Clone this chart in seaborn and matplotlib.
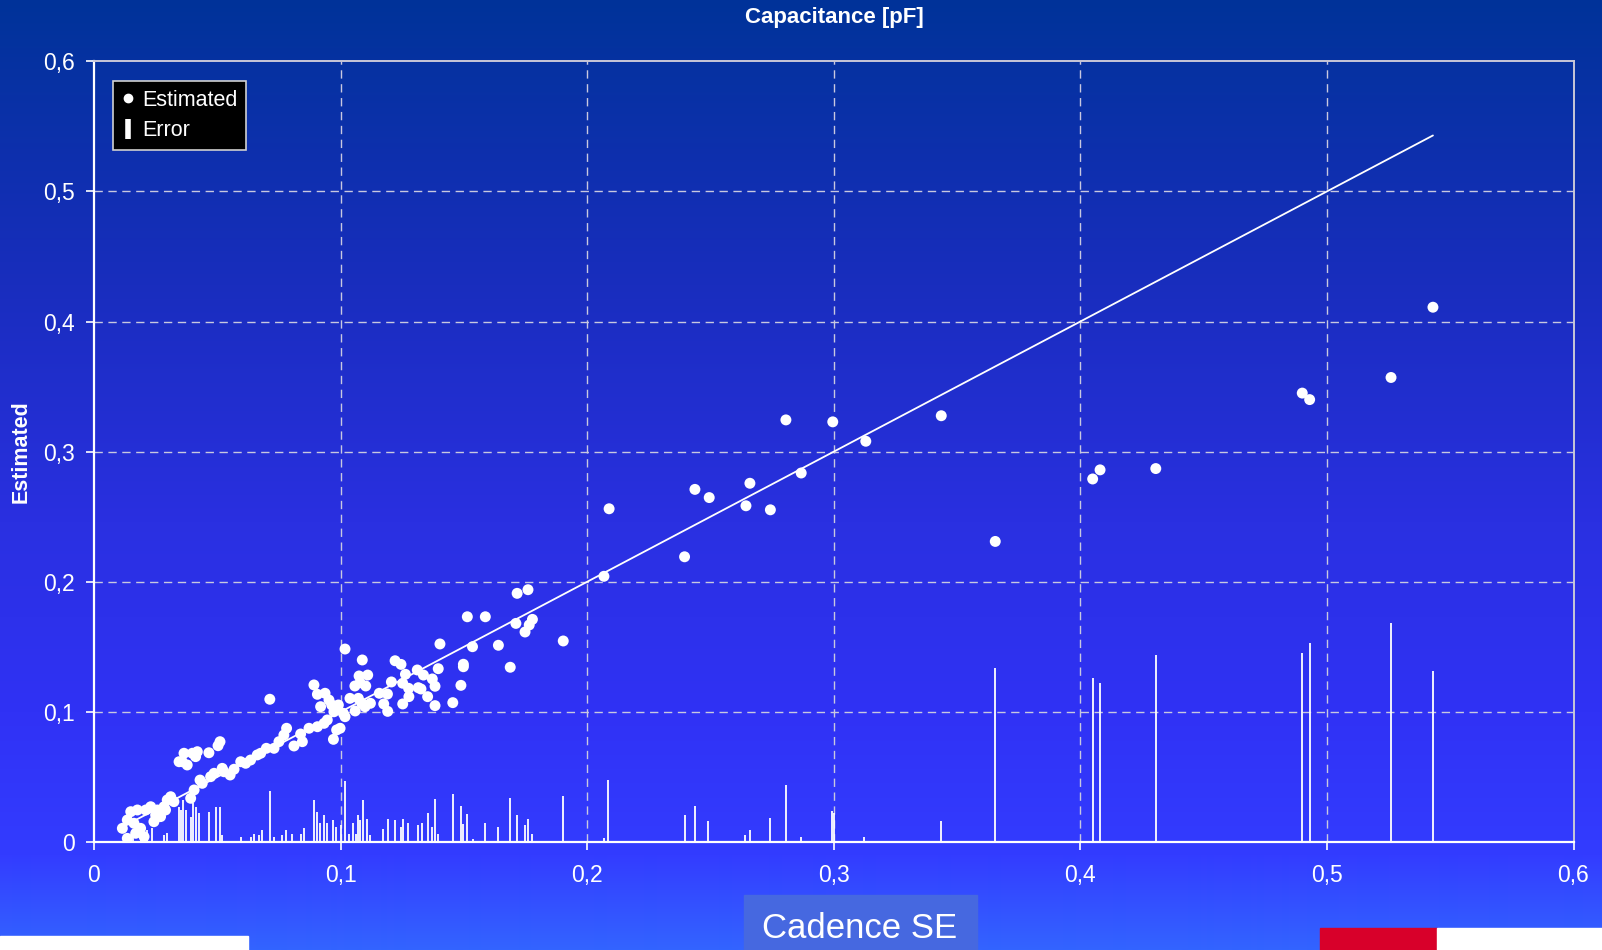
import numpy as np
import matplotlib
matplotlib.use("Agg")
import matplotlib.pyplot as plt
import seaborn as sns
from matplotlib.lines import Line2D
from matplotlib.patches import Rectangle

measured = [0.543, 0.526, 0.490, 0.493, 0.4306, 0.408, 0.405, 0.3655, 0.3436, 0.313,
            0.2996, 0.2868, 0.2806, 0.2743, 0.266, 0.2644, 0.2495, 0.2437, 0.2395, 0.2089,
            0.2068,
            0.1018, 0.1088, 0.1221, 0.1245, 0.1403, 0.1514, 0.1587, 0.1716, 0.176, 0.1711,
            0.1765, 0.1778, 0.1748, 0.1903, 0.164, 0.1688, 0.1535, 0.1498, 0.1498, 0.1488,
            0.1455, 0.1396, 0.1383, 0.1372, 0.1353, 0.1383, 0.1336, 0.1311, 0.1326, 0.1315,
            0.1276, 0.1277, 0.1263, 0.1252, 0.1252, 0.1206, 0.119, 0.1175, 0.1191, 0.1157,
            0.1121, 0.111, 0.1075, 0.1102, 0.1058, 0.1079, 0.1038, 0.1072, 0.1086, 0.1059,
            0.1099, 0.1018, 0.0984, 0.0971, 0.0998, 0.0964, 0.0984, 0.1011,
            0.0892, 0.0713, 0.0906, 0.0937, 0.0953, 0.0991, 0.0919, 0.0973, 0.0933, 0.0946,
            0.0906, 0.0872, 0.0838, 0.0845, 0.0811, 0.0781, 0.077, 0.075, 0.073, 0.0699,
            0.0676, 0.0662, 0.0635, 0.0615, 0.0595, 0.0568, 0.0552, 0.0527, 0.052, 0.0487,
            0.0473, 0.0511, 0.0503, 0.0466, 0.0419, 0.0412, 0.0399, 0.0365, 0.0358, 0.0345,
            0.0378, 0.043, 0.0439, 0.0406, 0.0392, 0.0311, 0.0297, 0.0284, 0.0257, 0.023,
            0.021, 0.0176, 0.0149, 0.0135, 0.0115, 0.0162, 0.0189, 0.0203, 0.0135, 0.0169,
            0.0243, 0.025, 0.029, 0.0324, 0.027]
estimated = [0.411, 0.357, 0.345, 0.340, 0.287, 0.286, 0.279, 0.231, 0.3276, 0.308,
             0.3229, 0.2836, 0.3244, 0.2553, 0.2757, 0.2584, 0.2647, 0.271, 0.2192, 0.2561,
             0.2042,
             0.1483, 0.1399, 0.1393, 0.1365, 0.1522, 0.1731, 0.1731, 0.1911, 0.1939, 0.168,
             0.1668, 0.1711, 0.1614, 0.1545, 0.1512, 0.1343, 0.1501, 0.1366, 0.1347, 0.1204,
             0.1071, 0.1332, 0.1197, 0.1253, 0.1117, 0.1048, 0.1283, 0.1322, 0.1176, 0.1186,
             0.1181, 0.1117, 0.1289, 0.122, 0.1061, 0.123, 0.1137, 0.1061, 0.1004, 0.1143,
             0.1066, 0.1283, 0.1276, 0.1199, 0.1199, 0.1224, 0.1104, 0.1104, 0.1066, 0.1007,
             0.104, 0.0963, 0.0861, 0.0789, 0.0874, 0.1053, 0.104, 0.0989,
             0.1207, 0.1097, 0.1135, 0.1143, 0.1091, 0.1053, 0.104, 0.1001, 0.0912, 0.0938,
             0.0886, 0.0874, 0.083, 0.0771, 0.0738, 0.0874, 0.0822, 0.0771, 0.072, 0.072,
             0.0682, 0.0669, 0.063, 0.0605, 0.0617, 0.0559, 0.0515, 0.054, 0.0566, 0.0528,
             0.0502, 0.0771, 0.074, 0.0686, 0.0694, 0.0656, 0.0682, 0.0682, 0.0617, 0.0617,
             0.0592, 0.0476, 0.0451, 0.04, 0.0336, 0.0348, 0.0323, 0.0271, 0.0246, 0.0271,
             0.0246, 0.0246, 0.0233, 0.0169, 0.0105, 0.0144, 0.0105, 0.0041, 0.0028, 0.0067,
             0.0156, 0.0207, 0.0246, 0.031, 0.0195]

# error bars: position and height
err_x = [0.0135, 0.016, 0.019, 0.0215, 0.0237, 0.0284, 0.0295, 0.0345, 0.0351, 0.0361,
         0.0372, 0.0392, 0.0402, 0.0415, 0.0427, 0.0466, 0.0493, 0.0510, 0.0520, 0.0595,
         0.0635, 0.0649, 0.0669, 0.0683, 0.0712, 0.0730, 0.0764, 0.0780, 0.0802, 0.0838,
         0.0852, 0.0892, 0.0906, 0.0917, 0.0933, 0.0946, 0.0971, 0.0983, 0.1000, 0.1018,
         0.1036, 0.1052, 0.1063, 0.1072, 0.1079, 0.109, 0.1106, 0.1119, 0.1173, 0.1191,
         0.1221, 0.1244, 0.1252, 0.1272, 0.1315, 0.1329, 0.1353, 0.1369, 0.1383, 0.1396,
         0.1455, 0.1487, 0.1495, 0.1513, 0.1536, 0.1586, 0.1637, 0.1687, 0.1714, 0.1748,
         0.1759, 0.1775, 0.1901, 0.2068, 0.2086, 0.2397, 0.2437, 0.249, 0.264, 0.2659,
         0.2742, 0.2806, 0.2866, 0.2992, 0.3002, 0.3123, 0.3434, 0.3655, 0.405, 0.408,
         0.4306, 0.490, 0.493, 0.526, 0.543]
err_val = [0.004, 0.008, 0.012, 0.009, 0.0105, 0.0054, 0.0067, 0.0272, 0.0246, 0.0323,
           0.0246, 0.0195, 0.0297, 0.0266, 0.0220, 0.0233, 0.0272, 0.0272, 0.0054, 0.0036,
           0.0041, 0.0061, 0.0054, 0.0092, 0.0392, 0.0041, 0.0054, 0.0092, 0.0061, 0.0061,
           0.0105, 0.0323, 0.0233, 0.0143, 0.0207, 0.0143, 0.0170, 0.0118, 0.0131, 0.0466,
           0.0064, 0.0146, 0.0064, 0.0205, 0.0167, 0.032, 0.0179, 0.0051, 0.0102, 0.0179,
           0.0172, 0.0115, 0.0179, 0.0146, 0.0128, 0.0146, 0.0225, 0.0115, 0.0330, 0.0064,
           0.0371, 0.0274, 0.0136, 0.0218, 0.0026, 0.0146, 0.0115, 0.0338, 0.0205, 0.0128,
           0.0179, 0.0059, 0.0351, 0.0028, 0.0476, 0.0207, 0.0277, 0.0164, 0.0054, 0.0092,
           0.0187, 0.0435, 0.0041, 0.0241, 0.0225, 0.0041, 0.0161, 0.1335, 0.1257, 0.1225,
           0.1438, 0.1453, 0.1532, 0.1681, 0.1312]

# ideal (estimated = measured) line
ideal_x = [0.013, 0.1, 0.2, 0.3, 0.4, 0.49, 0.543]
ideal_y = [0.013, 0.1, 0.2, 0.3, 0.4, 0.49, 0.543]

ticks = [0, 0.1, 0.2, 0.3, 0.4, 0.5, 0.6]
tick_labels = ["0", "0,1", "0,2", "0,3", "0,4", "0,5", "0,6"]

sns.set_style("ticks")
plt.rcParams['font.family'] = ['Liberation Sans', 'DejaVu Sans']

W, H = 1602, 950
fig = plt.figure(figsize=(W / 100, H / 100), dpi=100)

# slide background: vertical blue gradient
stops = [0.0, 0.3, 0.55, 0.75, 0.9, 1.0]
reds = [0, 25, 42, 48, 51, 51]
greens = [51, 45, 48, 50, 60, 100]
blues = [153, 190, 225, 245, 255, 255]
rows = np.linspace(0, 1, H)
grad = np.stack([np.interp(rows, stops, reds), np.interp(rows, stops, greens),
                 np.interp(rows, stops, blues)], axis=-1)[:, None, :] / 255.0
bg = fig.add_axes([0, 0, 1, 1], zorder=-10)
bg.imshow(grad, aspect='auto', extent=[0, 1, 0, 1], interpolation='bilinear')
bg.axis('off')

ax = fig.add_axes([94 / W, 1 - 842 / H, 1479.5 / W, 780.7 / H])
ax.set_facecolor('none')

ax.vlines(err_x, 0, err_val, color='white', lw=1.3, zorder=2)
sns.lineplot(x=ideal_x, y=ideal_y, color='white', lw=1.3, ax=ax, zorder=3)
sns.scatterplot(x=measured, y=estimated, color='white', s=62, edgecolor='none',
                ax=ax, zorder=4, legend=False)

ax.set_xlim(0, 0.6)
ax.set_ylim(0, 0.6)
ax.set_xticks(ticks)
ax.set_yticks(ticks)
ax.set_xticklabels(tick_labels)
ax.set_yticklabels(tick_labels)
ax.tick_params(colors='white', labelcolor='white', labelsize=16.5, length=6, width=1.2,
               direction='out')
ax.tick_params(axis='x', pad=10)
ax.tick_params(axis='y', pad=8)

for yv in ticks[1:-1]:
    ax.axhline(yv, color='#c8c8e0', lw=1, ls=(0, (6, 4)), zorder=1)
for xv in ticks[1:-1]:
    ax.axvline(xv, color='#c8c8e0', lw=1, ls=(0, (6, 4)), zorder=1)

for side in ['left', 'bottom']:
    ax.spines[side].set_color('white')
    ax.spines[side].set_linewidth(1.6)
for side in ['top', 'right']:
    ax.spines[side].set_visible(True)
    ax.spines[side].set_color('#c8c8d8')
    ax.spines[side].set_linewidth(1.4)

ax.set_xlabel('')
ax.set_ylabel('Estimated', color='white', fontsize=15.5, fontweight='bold')
ax.yaxis.set_label_coords(-0.042, 0.5)

fig.text(834 / W, 1 - 17.5 / H, 'Capacitance [pF]', color='white', fontsize=16,
         fontweight='bold', ha='center', va='center')

h1 = Line2D([], [], marker='o', ls='none', color='white', markersize=6)
h2 = Line2D([], [], marker='|', ls='none', color='white', markersize=14, markeredgewidth=4)
leg = ax.legend([h1, h2], ['Estimated', 'Error'], loc='upper left',
                bbox_to_anchor=(113 / W, 1 - 81 / H), bbox_transform=fig.transFigure,
                frameon=True, fancybox=False, facecolor='black', edgecolor='#d0d0d0',
                framealpha=1, fontsize=15.5, labelcolor='white', borderaxespad=0,
                borderpad=0.4, handlelength=0.6, handletextpad=0.35, labelspacing=0.45)
leg.get_frame().set_linewidth(1.2)

# footer elements of the slide
fig.add_artist(Rectangle((744 / W, 0), 233 / W, 55 / H, transform=fig.transFigure,
                         color='#4668e0', zorder=5))
fig.text(860 / W, 1 - 928 / H, 'Cadence SE', color='white', fontsize=25,
         ha='center', va='center', zorder=6)
fig.add_artist(Rectangle((0, 0), 248 / W, 14 / H, transform=fig.transFigure,
                         color='white', zorder=5))
fig.add_artist(Rectangle((1320 / W, 0), 117 / W, 22 / H, transform=fig.transFigure,
                         color='#d8002a', zorder=5))
fig.add_artist(Rectangle((1437 / W, 0), 165 / W, 22 / H, transform=fig.transFigure,
                         color='white', zorder=5))

fig.savefig('out.png', dpi=100)
